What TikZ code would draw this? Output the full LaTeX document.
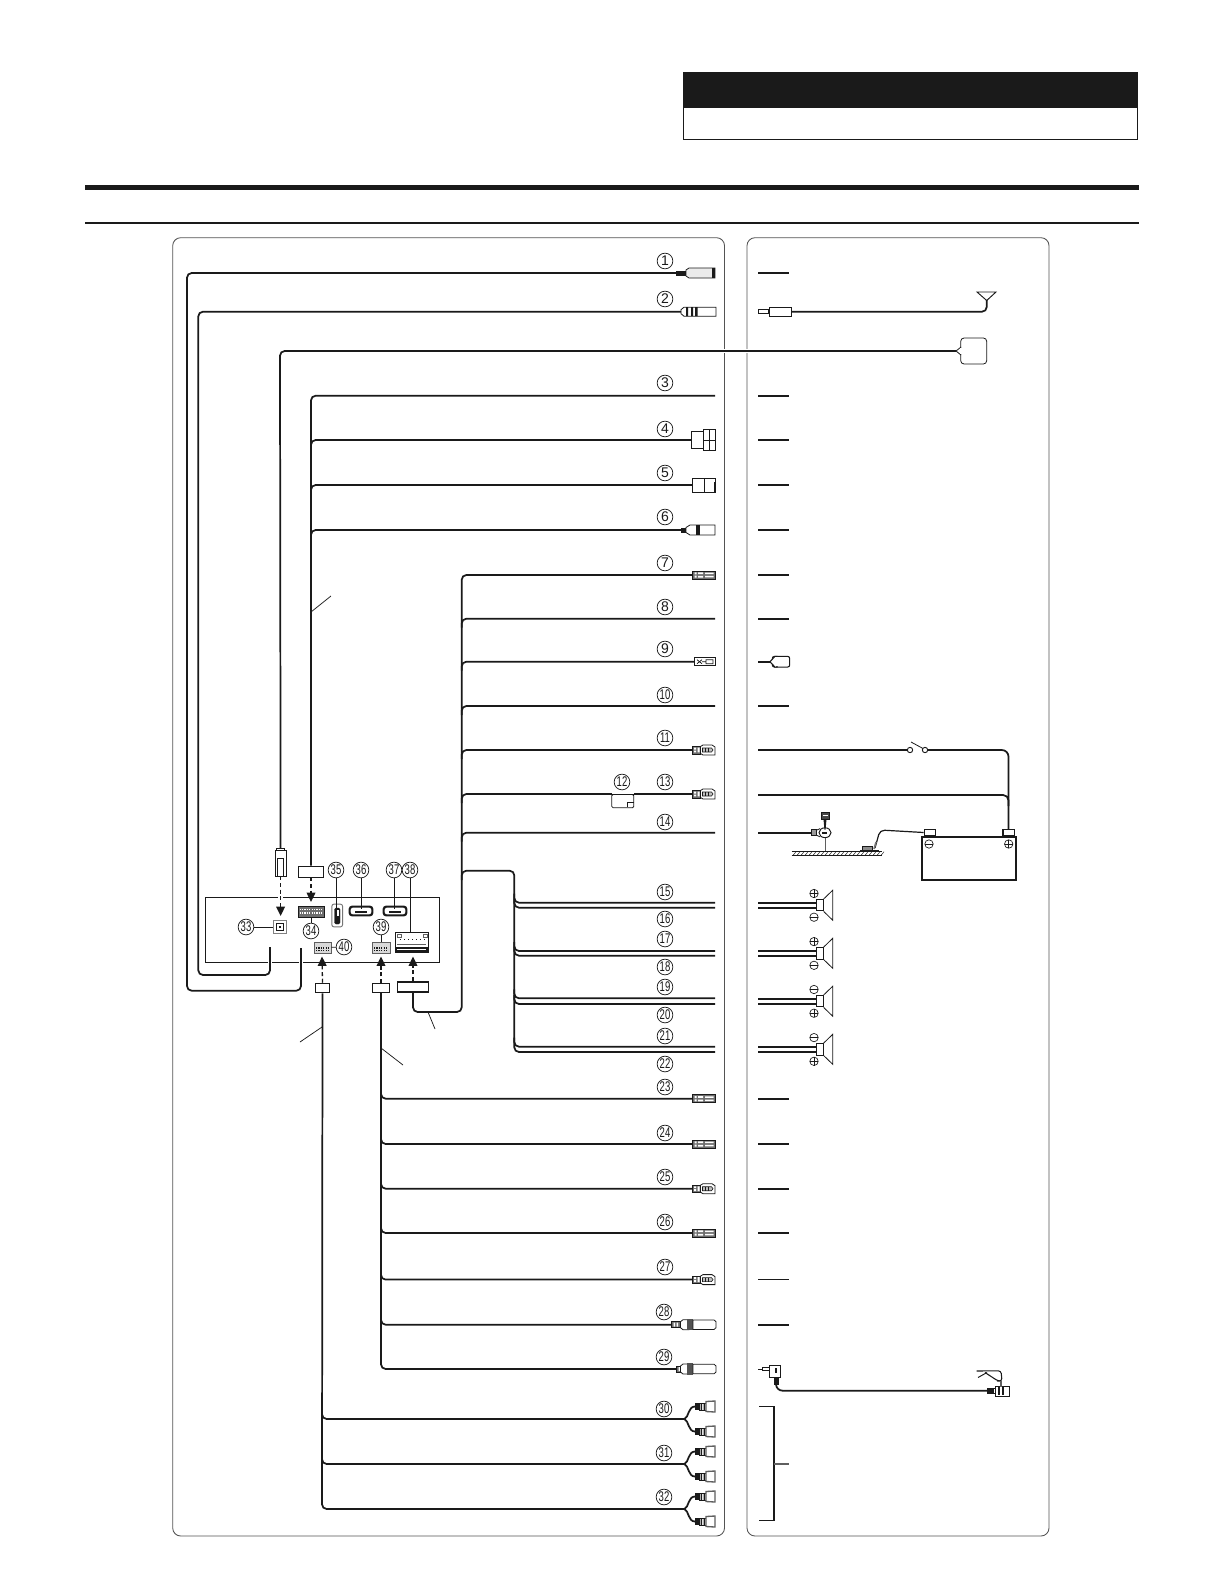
\documentclass[tikz,border=0pt]{standalone}
\usepackage{fontspec}
\setmainfont{Liberation Sans}
\usetikzlibrary{arrows.meta,shapes.geometric}
\definecolor{ink}{HTML}{1A1A1A}
\definecolor{greyfill}{HTML}{6E6E6E}
\tikzset{
  wire/.style={line width=1.3pt,draw=ink,rounded corners=3.5pt},
  thinl/.style={line width=.55pt,draw=ink},
  part/.style={line width=.6pt,draw=ink,fill=white},
  dark/.style={draw=ink,fill=ink,line width=.3pt},
  mid/.style={draw=ink,fill=greyfill,line width=.4pt},
  panel/.style={line width=.65pt,draw=ink!75,rounded corners=6pt},
  num/.style={circle,draw=ink,line width=.55pt,minimum size=11.8pt,inner sep=0pt,fill=white,font=\fontsize{10.5}{10.5}\selectfont,text=ink},
  halo/.style={line width=3.2pt,draw=white},
  plugdash/.style={line width=1pt,draw=ink,dash pattern=on 3pt off 2pt,-{Triangle[length=7pt,width=6.5pt,fill=ink]}},
  leader/.style={line width=.55pt,draw=ink},
  holder/.style={part,inner sep=0pt,rectangle},
}
% ---- connector drawings: #1 name, #2 row y
\newcommand{\jackA}[2]{\coordinate (c#1) at (676,#2);
 \begin{scope}[shift={(0,#2)}]
 \fill[ink] (676,-2.5) rectangle (686,2.5);
 \draw[part,fill=black!8] (686,-3) -- (689,-5) -- (715,-5) -- (715,5) -- (689,5) -- (686,3) -- cycle;
 \fill[ink] (711.5,-5) rectangle (715,5);
 \end{scope}}
\newcommand{\jackB}[2]{\coordinate (c#1) at (681,#2);
 \begin{scope}[shift={(0,#2)}]
 \draw[part] (681,-2) -- (684,-4.5) -- (716,-4.5) -- (716,4.5) -- (684,4.5) -- (681,2) -- cycle;
 \fill[ink] (686,-4.5) rectangle (688,4.5) (691,-4.5) rectangle (693,4.5) (695,-4.5) rectangle (697.5,4.5);
 \end{scope}}
\newcommand{\jackC}[2]{\coordinate (c#1) at (691,#2);
 \begin{scope}[shift={(0,#2)}]
 \draw[part] (691,-8.5) rectangle (703,8.5);
 \draw[part] (703,-10.5) rectangle (715,10.5);
 \draw[thinl] (703,0) -- (715,0) (709,-10.5) -- (709,10.5);
 \end{scope}}
\newcommand{\jackD}[2]{\coordinate (c#1) at (692.5,#2);
 \begin{scope}[shift={(0,#2)}]
 \draw[part] (692.5,-7) rectangle (715,7);
 \draw[thinl] (704,-7) -- (704,7);
 \fill[ink] (713.5,-3) rectangle (715,7);
 \end{scope}}
\newcommand{\jackE}[2]{\coordinate (c#1) at (681,#2);
 \begin{scope}[shift={(0,#2)}]
 \fill[ink] (681,-2.5) rectangle (686,2.5);
 \draw[part] (686,-2.5) -- (690,-5) -- (715,-5) -- (715,5) -- (690,5) -- (686,2.5) -- cycle;
 \fill[ink] (696,-5) rectangle (700,5);
 \end{scope}}
\newcommand{\quickA}[2]{\coordinate (c#1) at (692,#2);
 \begin{scope}[shift={(0,#2)}]
 \draw[mid] (692,-4) rectangle (715,4);
 \fill[white] (694.5,-2.6) rectangle (696.5,-.6) (694.5,.6) rectangle (696.5,2.6)
   (698,-2.6) rectangle (703,-.8) (698,.8) rectangle (703,2.6)
   (705,-2.4) rectangle (713.5,-.8) (705,.8) rectangle (713.5,2.4);
 \end{scope}}
\newcommand{\quickB}[2]{\coordinate (c#1) at (694,#2);
 \begin{scope}[shift={(0,#2)}]
 \draw[part] (694,-4) rectangle (715,4);
 \draw[thinl] (697,-2) -- (702,2) (697,2) -- (702,-2) (702,0) -- (706,0) (706,-2) -- (713,-2) -- (713,2) -- (706,2) -- cycle;
 \end{scope}}
\newcommand{\quickC}[2]{\coordinate (c#1) at (692.5,#2);
 \begin{scope}[shift={(0,#2)}]
 \draw[mid] (692.5,-3.8) rectangle (700.5,3.8);
 \fill[white] (694,-2.4) rectangle (696,-.5) (694,.5) rectangle (696,2.4) (697.5,-2.4) rectangle (699.5,2.4);
 \draw[part] (700.5,-3.5) -- (703,-5) -- (712,-5) -- (715,-3) -- (715,5) -- (703,5) -- (700.5,3.5) -- cycle;
 \draw[thinl,line width=.45pt,fill=black!25] (702.5,-2) -- (711.5,-2) -- (713,0) -- (711.5,2) -- (702.5,2) -- cycle;
 \draw[thinl,line width=.4pt] (705,-2) -- (705,2) (708,-2) -- (708,2);
 \end{scope}}
\newcommand{\jackF}[3]{\coordinate (c#1) at (#3,#2);
 \begin{scope}[shift={(0,#2)}]
 \draw[mid] (#3,-3) rectangle (680.5,3);
 \fill[white] (#3+2.5,-2) rectangle (#3+4,2) (#3+5.5,-2) rectangle (#3+7,2);
 \draw[part] (680.5,-3) -- (683,-5) -- (689,-5) -- (689,5) -- (683,5) -- (680.5,3) -- cycle;
 \fill[ink!75] (687,-5.6) rectangle (693,5.6);
 \draw[part] (693,-4.8) -- (714,-4.8) -- (716,-3) -- (716,3) -- (714,4.8) -- (693,4.8) -- cycle;
 \end{scope}}
\newcommand{\rcaPlug}[2]{\coordinate (#1) at (695,#2);
 \begin{scope}[shift={(0,#2)}]
 \draw[dark] (695,-3) rectangle (699,3);
 \draw[part] (699,-3.5) rectangle (706,3.5);
 \fill[ink] (700.5,-3.5) rectangle (702,3.5) (703.5,-3.5) rectangle (705,3.5);
 \draw[part,draw=ink!70,line width=1pt] (706,-5) -- (715,-5.5) -- (715,5.5) -- (706,5) -- cycle;
 \end{scope}}
\newcommand{\rcaFork}[2]{\coordinate (c#1t) at (695,#2-12.5); \coordinate (c#1b) at (695,#2+12.5);
 \coordinate (j#1) at (684.5,#2);
 \rcaPlug{r#1t}{#2-12.5} \rcaPlug{r#1b}{#2+12.5}
 \draw[wire,rounded corners=0pt] (j#1) .. controls (689,#2-2) and (688,#2-12.5) .. (r#1t);
 \draw[wire,rounded corners=0pt] (j#1) .. controls (689,#2+2) and (688,#2+12.5) .. (r#1b);}
\newcommand{\spk}[4]{% #1 name, #2 centre y, #3 upper sign, #4 lower sign
 \node[holder,minimum width=5.2pt,minimum height=8.6pt,line width=.7pt] (sp#1) at (819.7,#2) {};
 \draw[line width=.6pt,draw=ink] (sp#1.north east) -- (832.7,#2-15) -- (832.7,#2+15) -- (sp#1.south east);
 \draw[wire,rounded corners=0pt] (758,#2-2.5) -- (sp#1.west |- 0,#2-2.5);
 \draw[wire,rounded corners=0pt] (758,#2+2.5) -- (sp#1.west |- 0,#2+2.5);
 \sgn{814}{#2-11.7}{#3}\sgn{814}{#2+12}{#4}}
\newcommand{\sgn}[3]{\draw[thinl,line width=.5pt] (#1,#2) circle (4.2);
 \draw[thinl,line width=.5pt] (#1-4.2,#2) -- (#1+4.2,#2);
 \ifnum#3=1 \draw[thinl,line width=.5pt] (#1,#2-4.2) -- (#1,#2+4.2);\fi}
\begin{document}
\begin{tikzpicture}[x=.75pt,y=-.75pt]
\useasboundingbox (0,0) rectangle (1225,1585);
\fill[white] (0,0) rectangle (1225,1585);
% header
\fill[ink] (683,72) rectangle (1138,107);
\draw[line width=.7pt,draw=ink] (683,107) rectangle (1137.5,139.5);
\fill[ink] (85,185) rectangle (1139,190);
\draw[line width=1pt,draw=ink] (85,223) -- (1139,223);
% panels
\draw[panel] (172.7,237.7) rectangle (724.5,1536);
\draw[panel] (747,237.7) rectangle (1049,1536);
% rear unit
\node[rectangle,draw=ink,line width=.6pt,minimum width=175pt,minimum height=48.2pt,inner sep=0pt] (unit) at (322.5,929.8) {};
% numbers
\foreach \n/\xx/\yy in {1/665/261,2/665/299,3/665/383,4/665/429,5/665/473,6/665/517,7/665/563,8/665/607,9/665/649,10/665/695,11/665/738,12/622/782,13/665/782,14/665/822,15/665/892,16/665/919,17/665/939,18/665/967,19/665/987,20/665/1015,21/665/1036,22/665/1064,23/665/1087,24/665/1133,25/665/1177,26/665/1222,27/665/1267,28/664/1312,29/664/1357,30/664/1409,31/664/1453,32/664/1497,33/246/927,34/311/931,35/336/870,36/361/870,37/394/870,38/410/870,39/381/927,40/344/947}
 {\node[num] (n\n) at (\xx,\yy) {\ifnum\n>9 \scalebox{.68}[1]{\n}\else\n\fi};}
% connector heads, left panel
\jackA{1}{273}
\jackB{2}{311.7}
\coordinate (c3) at (715,395.7);
\jackC{4}{440}
\jackD{5}{485}
\jackE{6}{530}
\quickA{7}{575}
\coordinate (c8) at (715,618.7);
\quickB{9}{661.7}
\coordinate (c10) at (715,706);
\quickC{11}{750}
\quickC{13}{794}
\coordinate (c14) at (715,832.7);
\quickA{23}{1098.7}
\quickA{24}{1144}
\quickC{25}{1188.7}
\quickA{26}{1233}
\quickC{27}{1279.6}
\jackF{28}{1324.7}{671}
\jackF{29}{1369}{676}
\rcaFork{30}{1419}
\rcaFork{31}{1464}
\rcaFork{32}{1509}
% rear unit sockets
\node[part,rectangle,minimum width=9.5pt,minimum height=10pt,inner sep=0pt,draw=ink!55,line width=1pt] (s33) at (280,927) {};
\draw[thinl,line width=.4pt] (276.5,923.5) rectangle (283.5,930.5);
\fill[ink] (279,926) rectangle (281,928);
\draw[thinl] (n33) -- (s33);
\node[mid,rectangle,minimum width=19.5pt,minimum height=8.2pt,inner sep=0pt] (s34) at (311,911.5) {};
\draw[white,line width=1.2pt,dash pattern=on .9pt off .9pt] (299.5,909.5) -- (322.5,909.5) (299.5,913) -- (322.5,913);
\draw[thinl] (s34) -- (n34);
\node[part,rectangle,minimum width=8pt,minimum height=17pt,inner sep=0pt,draw=ink!60,line width=.7pt,rounded corners=1.5pt] (s35) at (337.2,915.5) {};
\draw[dark,rounded corners=1pt] (334.5,908) rectangle (340,924);
\fill[white] (336.5,910) rectangle (338.5,916);
\draw[thinl] (n35) -- (336,908);
\node[part,rectangle,minimum width=17pt,minimum height=6.6pt,inner sep=0pt,line width=1.6pt,rounded corners=2pt] (s36) at (361,911) {};
\node[part,rectangle,minimum width=17pt,minimum height=6.6pt,inner sep=0pt,line width=1.6pt,rounded corners=2pt] (s37) at (395,911) {};
\draw[thinl] (n36) -- (361,908.5);
\draw[thinl] (n37) -- (394,908.5);
\draw[thinl,line width=.9pt] (355,912) -- (367,912) (389,912) -- (401,912);
\node[part,rectangle,minimum width=24.7pt,minimum height=15pt,inner sep=0pt] (s38) at (411.5,942) {};
\draw[thinl] (n38) -- (s38.north -| n38);
\fill[ink] (395,947) rectangle (428,952);
\fill[white] (397,948.5) rectangle (426,950);
\draw[ink,line width=1pt,dash pattern=on 1pt off 2pt] (400,939.5) -- (425,939.5);
\draw[ink!70,line width=.7pt] (397,937) rectangle (401,934) (423,937) rectangle (427,934) (397,944) -- (426,944);
\node[mid,rectangle,minimum width=13.5pt,minimum height=8.2pt,inner sep=0pt,draw=ink!70,fill=black!15] (s39) at (381,947.5) {};
\draw[ink,line width=1pt,dash pattern=on .9pt off .9pt] (374,948) -- (388,948) (374,950.5) -- (388,950.5);
\draw[thinl] (n39) -- (s39);
\node[mid,rectangle,minimum width=12.8pt,minimum height=8.2pt,inner sep=0pt,draw=ink!70,fill=black!15] (s40) at (322.5,947.5) {};
\draw[ink,line width=1pt,dash pattern=on .9pt off .9pt] (316,948) -- (329,948) (316,950.5) -- (329,950.5);
\draw[thinl] (s40) -- (n40);
% plugs
\node[part,rectangle,minimum width=8pt,minimum height=19.5pt,inner sep=0pt] (p33) at (280.6,863) {};
\draw[thinl] (277.3,858) rectangle (283.8,876);
\draw[part] (276.5,850) rectangle (284.8,848);
\node[part,rectangle,minimum width=18.7pt,minimum height=8.2pt,inner sep=0pt] (p34) at (311,871.5) {};
\node[part,rectangle,minimum width=11pt,minimum height=7pt,inner sep=0pt,line width=.9pt] (p40) at (322.5,988) {};
\node[part,rectangle,minimum width=13pt,minimum height=7pt,inner sep=0pt,line width=.6pt] (p39) at (381,988) {};
\node[part,rectangle,minimum width=23.3pt,minimum height=7.5pt,inner sep=0pt,line width=1.2pt] (p38) at (413,986.7) {};
% dashed plug arrows
\draw[halo] (280.6,894) -- (280.6,901) (311,894) -- (311,901) (322,956) -- (322,966) (381,956) -- (381,966) (413,956) -- (413,966);
\draw[plugdash] (p33.south) -- (280.6,916);
\draw[plugdash] (p34.south) -- (311,902);
\draw[plugdash] (p40.north) -- (322,956.5);
\draw[plugdash] (p39.north) -- (381,956.5);
\draw[plugdash] (p38.north) -- (413,956.5);
% left-panel wiring
\draw[halo] (301,958) -- (301,966);
\draw[halo] (270,958) -- (270,966);
\coordinate (a1) at (187,273);\coordinate (a2) at (187,990.7);\coordinate (a3) at (301,990.7);\coordinate (a4) at (301,948);
\draw[wire] (c1) -- (a1) -- (a2) -- (a3) -- (a4);
\coordinate (b1) at (198.3,311.7);\coordinate (b2) at (198.3,975);\coordinate (b3) at (270,975);\coordinate (b4) at (270,947);
\draw[wire] (c2) -- (b1) -- (b2) -- (b3) -- (b4);
% GPS
\node[draw=ink,line width=.6pt,fill=white,rounded corners=2.5pt,minimum width=19.5pt,minimum height=19.5pt,inner sep=0pt] (gps) at (973.7,351) {};
\coordinate (g1) at (280,351);
\draw[halo,line width=3.6pt] (722,351) -- (727,351) (745,351) -- (749,351);
\draw[wire] (p33.north |- 0,848) -- (g1) -- (956,351);
\draw[line width=.6pt,draw=ink] (961,347) -- (956,351) -- (961,355);
\fill[white] (960.2,347.6) rectangle (962,354.4);
% bus 3
\coordinate (d1) at (311,395.7);
\draw[wire] (p34.north) -- (d1) -- (c3);
\foreach \k/\y in {4/440,5/485,6/530}{\draw[wire] (311,\y+9) -- (311,\y) -- (c\k);}
% bus 7
\coordinate (e1) at (413,1012);\coordinate (e2) at (461.7,1012);\coordinate (e3) at (461.7,575);
\draw[wire] (p38.south) -- (e1) -- (e2) -- (e3) -- (c7);
\foreach \k/\y in {8/618.7,9/661.7,10/706,11/750,13/794,14/832.7}{\draw[wire] (461.7,\y+9) -- (461.7,\y) -- (c\k);}
% speaker bus
\coordinate (f1) at (461.7,870.7);\coordinate (f2) at (514.3,870.7);\coordinate (f3) at (514.3,1052);
\draw[wire] (461.7,880) -- (f1) -- (f2) -- (f3) -- (715,1052);
\foreach \k/\y in {15/902.7,17/951,19/998.3,21/1046.7}{\coordinate (c\k) at (715,\y);\draw[wire] (514.3,\y-9) -- (514.3,\y) -- (c\k);}
\foreach \k/\y in {16/907.7,18/955.7,20/1004}{\coordinate (c\k) at (715,\y);\draw[wire] (514.3,\y-9) -- (514.3,\y) -- (c\k);}
% bus 40 / 30-32
\coordinate (h1) at (322,1509);
\draw[wire] (p40.south) -- (h1) -- (j32);
\foreach \k/\y in {30/1419,31/1464}{\draw[wire] (322,\y-9) -- (322,\y) -- (j\k);}
% bus 39 / 23-29
\coordinate (i1) at (381,1369);
\draw[wire] (p39.south) -- (i1) -- (c29);
\foreach \k/\y in {23/1098.7,24/1144,25/1188.7,26/1233,27/1279.6,28/1324.7}{\draw[wire] (381,\y-9) -- (381,\y) -- (c\k);}
% holder 12
\node[part,rectangle,minimum width=16.5pt,minimum height=10pt,inner sep=0pt,anchor=north,rounded corners=1pt] (h12) at (622.8,794) {};
\draw[thinl] (627,807.3) -- (627,802.5) -- (633.8,802.5);
\draw[wire,rounded corners=0pt] (608,794) -- (637,794);
\draw[white,line width=.5pt] (612,793.4) -- (634,793.4);
% leaders
\draw[leader] (311,612) -- (331,596);
\draw[leader] (322,1027) -- (300,1042);
\draw[leader] (381,1048) -- (403,1065);
\draw[leader] (428,1012) -- (435,1029);
% right panel stubs
\foreach \y in {273,395.7,440,485,530,575,618.7,706,1098.7,1144,1188.7,1233,1279.6,1324.7}
 {\draw[wire,rounded corners=0pt] (758,\y) -- (789,\y);}
% tag 9
\node[draw=ink,line width=.8pt,fill=white,minimum width=13pt,minimum height=8pt,inner sep=0pt,rounded corners=1.5pt] (tag9) at (781,661.7) {};
\draw[wire,rounded corners=0pt] (758,661.7) -- (770,661.7);
\draw[line width=.8pt,draw=ink,fill=white] (775,656.3) -- (770,661.7) -- (775,667.1) -- (777,667.1) -- (777,656.3) -- cycle;
\fill[white] (775,657) rectangle (778,666.4);
% antenna
\node[part,rectangle,minimum width=8pt,minimum height=3.2pt,inner sep=0pt] (ant0) at (763.5,311.7) {};
\node[part,rectangle,minimum width=17pt,minimum height=6.4pt,inner sep=0pt] (ant1) at (780.5,311.7) {};
\coordinate (ant2) at (986.7,311.7);
\coordinate (ant3) at (986.7,300);
\draw[wire] (ant1.east) -- (ant2) -- (ant3);
\draw[line width=.7pt,draw=ink] (977,292) -- (996,292) -- (986.7,300.5) -- cycle;
% battery
\node[rectangle,draw=ink,line width=1.1pt,fill=white,minimum width=70.5pt,minimum height=32pt,inner sep=0pt] (batt) at (969.2,858.5) {};
\node[part,rectangle,minimum width=8.5pt,minimum height=4.5pt,inner sep=0pt,line width=1pt] (tpos) at (1008.5,832.5) {};
\node[part,rectangle,minimum width=8.5pt,minimum height=4.5pt,inner sep=0pt,line width=1pt] (tneg) at (930,832.5) {};
\sgn{929}{844}{0}
\sgn{1008.7}{844}{1}
% switch
\node[part,circle,minimum size=4pt,inner sep=0pt,line width=.7pt] (sw1) at (910,750) {};
\node[part,circle,minimum size=4pt,inner sep=0pt,line width=.7pt] (sw2) at (925,750) {};
\draw[thinl,line width=.6pt] (911,742) -- (923,748.5);
\coordinate (k0) at (758,750);
\coordinate (k1) at (1008.5,750);
\draw[wire,rounded corners=0pt] (k0) -- (sw1);
\draw[wire,rounded corners=5pt] (sw2) -- (k1) -- (tpos.north);
\coordinate (k2) at (758,795);\coordinate (k3) at (1008.5,795);
\draw[wire,rounded corners=4pt] (k2) -- (k3) -- (1008.5,806);
% ground side
\coordinate (q0) at (758,832.7);
\draw[thinl,line width=.5pt,draw=ink!70] (825,838) -- (825,852);
\draw[wire,rounded corners=0pt] (q0) -- (811,832.7);
\draw[part,fill=black!40] (811,829.7) rectangle (816,835.7);
\node[part,ellipse,minimum width=9pt,minimum height=7.4pt,inner sep=0pt,line width=.7pt] (ring) at (825,832.7) {};
\draw[part] (816,830.5) -- (820,828.6);
\draw[part] (816,835) -- (820,836.8);
\fill[ink] (822,831.5) rectangle (827,834);
\fill[ink] (823.5,819) -- (826.5,819) -- (825.6,829.5) -- (824.4,829.5) -- cycle;
\draw[mid,fill=ink!80] (821.7,812.7) rectangle (829,819);
\fill[white] (823,815.2) rectangle (827.7,816.4);
% plate
\draw[thinl] (791.7,851.7) -- (881.7,851.7) (791.7,855.4) -- (881.7,855.4);
\foreach \xx in {793,797,...,881}{\draw[thinl,line width=.35pt] (\xx,855.4) -- (\xx+3,851.7);}
\draw[wire,line width=.9pt] (tneg.west) -- (880,830) -- (875,848);
\draw[thinl,line width=1.2pt,draw=ink!60] (876,842) -- (874,849);
\draw[part,fill=black!45] (862,846.5) rectangle (872,851.5);
\draw[part,fill=black!45] (860,851.5) -- (878,851.5) -- (878,850) -- (860,850) -- cycle;
% speakers
\spk{1}{905.2}{1}{0}
\spk{2}{953.3}{1}{0}
\spk{3}{1001.2}{0}{1}
\spk{4}{1049.3}{0}{1}
% mic
\draw[thinl] (758,1369) -- (762,1369);
\node[part,rectangle,minimum width=5.5pt,minimum height=2.2pt,inner sep=0pt] (mp) at (766,1369) {};
\node[part,rectangle,minimum width=8pt,minimum height=8.6pt,inner sep=0pt,line width=.7pt] (mb) at (775,1371.5) {};
\draw[dark] (773.7,1377.5) rectangle (778.5,1384);
\fill[ink] (775,1367.5) rectangle (777,1373);
\coordinate (m1) at (776,1390.7);
\node[part,rectangle,minimum width=10.5pt,minimum height=7.5pt,inner sep=0pt] (mic) at (1002,1391) {};
\fill[ink] (987,1387.7) rectangle (994,1394);
\draw[thinl,line width=.6pt] (994,1388.5) -- (995,1388.5) (994,1393.5) -- (995,1393.5);
\draw[ink,line width=.9pt] (999,1387) -- (999,1395) (1003,1387) -- (1003,1395);
\draw[wire,rounded corners=5pt] (776,1384) -- (m1) -- (987,1390.7);
\draw[thinl,line width=.8pt,rounded corners=2pt] (976.7,1371) -- (1001,1370.8) -- (1002,1381) -- (998,1381) -- (985,1372.5);
\draw[thinl,line width=.7pt] (978,1377.5) -- (987,1372.5);
\draw[line width=.9pt,draw=ink!70] (1001,1381) -- (1001,1386.5);
% bracket
\coordinate (br1) at (759,1406.7);\coordinate (br2) at (774,1406.7);\coordinate (br3) at (774,1520.7);\coordinate (br4) at (759,1520.7);
\draw[line width=1.1pt,draw=ink] (br1) -- (br2) -- (br3) -- (br4);
\draw[line width=.9pt,draw=ink!70] (774,1464) -- (789,1464);
\end{tikzpicture}
\end{document}
